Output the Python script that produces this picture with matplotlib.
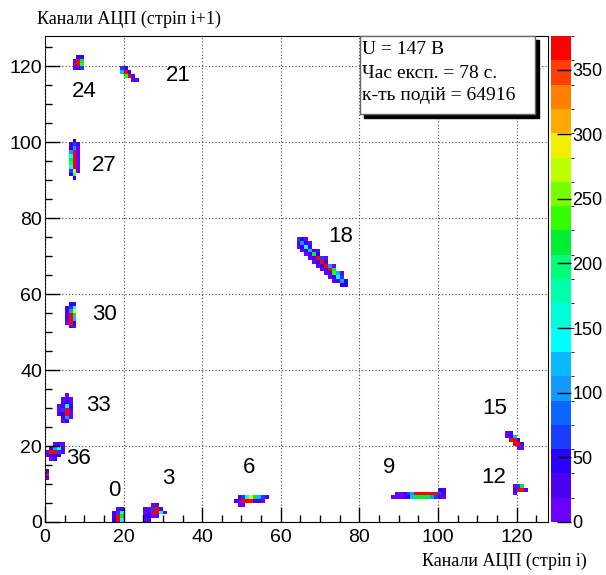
"""2D ADC-channel correlation map (strip i vs strip i+1) in ROOT COLZ style."""

import matplotlib

matplotlib.use("Agg")

import matplotlib.pyplot as plt
import numpy as np
from matplotlib.colors import BoundaryNorm, ListedColormap
from matplotlib.patches import Rectangle
from matplotlib.ticker import MultipleLocator

plt.rcParams["font.family"] = ["Liberation Sans", "DejaVu Sans"]
SERIF = ["Liberation Serif", "DejaVu Serif"]

N_BINS = 128
Z_MAX = 376
N_LEVELS = 20
CBAR_TICKS = [0, 50, 100, 150, 200, 250, 300, 350]

# ROOT-like rainbow palette, bottom (low) to top (high)
PALETTE = [
    "#6a00ff", "#4b00f0", "#2a00ff", "#1a3cff", "#0a66ff",
    "#1199ff", "#0ab8ff", "#00ffff", "#00ffd6", "#00ffaa",
    "#00ff77", "#00ee33", "#33ff00", "#77ff00", "#bbff00",
    "#f0f000", "#ffaa00", "#ff8000", "#ff4000", "#ff0000",
]

# clusters: rows of (y bin, first x bin, counts along x)
CLUSTER_24 = [
    (122, 7, [0, 40, 30]),
    (121, 7, [15, 370, 220]),
    (120, 7, [15, 360, 200]),
    (119, 7, [15, 20, 60]),
]
CLUSTER_21 = [
    (119, 19, [60, 30]),
    (118, 19, [130, 370, 40]),
    (117, 20, [230, 370, 20]),
    (116, 22, [15, 15]),
]
CLUSTER_27 = [
    (100, 7, [40]),
    (99, 6, [30, 60, 20]),
    (98, 6, [50, 110, 15]),
    (97, 6, [110, 370, 15]),
    (96, 6, [150, 370, 15]),
    (95, 6, [220, 370, 10]),
    (94, 6, [200, 370, 10]),
    (93, 6, [150, 360, 15]),
    (92, 6, [60, 300, 15]),
    (91, 6, [40, 150]),
    (90, 7, [40]),
]
CLUSTER_18 = [
    (74, 64, [60, 40, 15]),
    (73, 64, [30, 110, 40, 15]),
    (72, 64, [15, 40, 150, 30]),
    (71, 65, [15, 20, 130, 20, 15]),
    (70, 66, [15, 30, 220, 40]),
    (69, 67, [15, 20, 370, 60, 15]),
    (68, 68, [15, 40, 370, 20]),
    (67, 69, [15, 20, 370, 110, 15]),
    (66, 70, [15, 30, 370, 220]),
    (65, 71, [15, 20, 230, 130, 15]),
    (64, 72, [15, 40, 150, 60]),
    (63, 73, [15, 30, 110, 40]),
    (62, 75, [50, 40]),
]
CLUSTER_30 = [
    (57, 6, [40, 30]),
    (56, 5, [20, 60, 150]),
    (55, 5, [30, 110, 300]),
    (54, 5, [30, 370, 220]),
    (53, 5, [20, 370, 130]),
    (52, 5, [15, 370, 40]),
    (51, 6, [30, 15]),
]
CLUSTER_33 = [
    (33, 5, [15]),
    (32, 4, [15, 20, 15]),
    (31, 4, [20, 40, 15]),
    (30, 3, [15, 30, 150, 40]),
    (29, 3, [15, 60, 370, 20]),
    (28, 3, [20, 40, 370, 15]),
    (27, 4, [20, 110, 15]),
    (26, 4, [15, 30]),
]
CLUSTER_36 = [
    (20, 2, [15, 20, 15]),
    (19, 1, [20, 110, 150, 20]),
    (18, 0, [15, 370, 370, 60, 15]),
    (17, 0, [15, 30, 40, 20]),
    (16, 1, [15, 20]),
    (13, 0, [40]),
    (12, 0, [370]),
    (11, 0, [30]),
]
CLUSTER_0 = [
    (3, 18, [15, 30]),
    (2, 17, [20, 60, 150]),
    (1, 17, [30, 370, 220]),
    (0, 17, [40, 370, 150]),
]
CLUSTER_3 = [
    (4, 27, [15, 30]),
    (3, 25, [20, 15, 60, 370, 20]),
    (2, 25, [15, 30, 370, 370, 150, 15]),
    (1, 25, [20, 40, 15, 15]),
    (0, 25, [15, 20]),
]
CLUSTER_6 = [
    (6, 49, [30, 60, 150, 300, 220, 130, 60, 30]),
    (5, 48, [20, 15, 370, 370, 370, 30, 20, 15]),
    (4, 49, [15, 15]),
]
CLUSTER_9 = [
    (8, 100, [40, 20]),
    (7, 89, [15, 15, 20, 60, 110, 370, 370, 370, 370, 370, 370, 60, 20]),
    (6, 88, [15, 15, 15, 20, 40, 130, 220, 220, 220, 220, 110, 60, 30, 15]),
]
CLUSTER_15 = [
    (23, 117, [15, 20]),
    (22, 117, [15, 40, 130]),
    (21, 118, [370, 370, 40]),
    (20, 119, [370, 370, 20]),
    (19, 120, [15, 15]),
]
CLUSTER_12 = [
    (9, 119, [15, 60, 220]),
    (8, 119, [20, 370, 370, 20]),
    (7, 119, [15]),
]
CLUSTERS = [
    CLUSTER_24, CLUSTER_21, CLUSTER_27, CLUSTER_18, CLUSTER_30, CLUSTER_33,
    CLUSTER_36, CLUSTER_0, CLUSTER_3, CLUSTER_6, CLUSTER_9, CLUSTER_15, CLUSTER_12,
]

# strip-number annotations
LABELS = ["24", "21", "27", "18", "30", "33", "36", "0", "3", "6", "9", "12", "15"]
LABEL_X = [9.9, 33.9, 15.2, 75.2, 15.2, 13.7, 8.4, 17.7, 31.4, 51.9, 87.6, 114.2, 114.4]
LABEL_Y = [113.3, 117.5, 94.0, 75.2, 54.6, 30.8, 16.7, 8.4, 11.5, 14.4, 14.4, 11.7, 29.8]

STATS_LINES = ["U = 147 В", "Час експ. = 78 с.", "к-ть подій = 64916"]
X_TITLE = "Канали АЦП (стріп i)"
Y_TITLE = "Канали АЦП (стріп i+1)"


def build_histogram() -> np.ndarray:
    """Fill a (y, x) count matrix from the cluster rows."""
    counts = np.zeros((N_BINS, N_BINS))
    for cluster in CLUSTERS:
        for y_bin, x_start, row in cluster:
            for offset, value in enumerate(row):
                counts[y_bin, x_start + offset] = value
    return np.ma.masked_equal(counts, 0)


def main() -> None:
    fig = plt.figure(figsize=(6.06, 5.75), dpi=100)
    W, H = 606, 575
    ax = fig.add_axes([45 / W, 53 / H, 503 / W, 486 / H])
    cax = fig.add_axes([551 / W, 53 / H, 20 / W, 486 / H])

    cmap = ListedColormap(PALETTE)
    norm = BoundaryNorm(np.linspace(0, Z_MAX, N_LEVELS + 1), cmap.N)
    edges = np.arange(N_BINS + 1)
    mesh = ax.pcolormesh(edges, edges, build_histogram(), cmap=cmap, norm=norm)

    ax.set_xlim(0, N_BINS)
    ax.set_ylim(0, N_BINS)
    ax.xaxis.set_major_locator(MultipleLocator(20))
    ax.yaxis.set_major_locator(MultipleLocator(20))
    ax.xaxis.set_minor_locator(MultipleLocator(5))
    ax.yaxis.set_minor_locator(MultipleLocator(5))
    ax.tick_params(which="both", direction="in", labelsize=14, width=1)
    ax.tick_params(which="major", length=11)
    ax.tick_params(which="minor", length=5)
    ax.tick_params(axis="x", pad=5)
    ax.tick_params(axis="y", pad=2)
    ax.grid(True, which="major", color="#444444", linestyle=(0, (1, 2)), linewidth=0.8)
    ax.set_axisbelow(False)

    for label, x, y in zip(LABELS, LABEL_X, LABEL_Y):
        ax.text(x, y, label, fontsize=16, ha="center", va="center", color="black")

    cb = fig.colorbar(mesh, cax=cax, ticks=CBAR_TICKS)
    cb.outline.set_visible(False)
    cax.tick_params(direction="in", length=10, width=1, labelsize=13, pad=1)

    fig.text(37 / W, 1 - 19 / H, Y_TITLE, family=SERIF, fontsize=13, ha="left", va="center")
    fig.text(587 / W, 1 - 561 / H, X_TITLE, family=SERIF, fontsize=13, ha="right", va="center")

    # stats box with ROOT-like drop shadow
    box_l, box_r, box_t, box_b = 360, 535, 36, 114
    fig.patches.append(
        Rectangle(((box_l + 4) / W, 1 - (box_b + 4) / H), (box_r - box_l) / W, (box_b - box_t) / H,
                  transform=fig.transFigure, facecolor="black", edgecolor="black", zorder=5)
    )
    fig.patches.append(
        Rectangle((box_l / W, 1 - box_b / H), (box_r - box_l) / W, (box_b - box_t) / H,
                  transform=fig.transFigure, facecolor="white", edgecolor="#666666", linewidth=1, zorder=6)
    )
    for i, line in enumerate(STATS_LINES):
        fig.text(362 / W, 1 - (50 + 23 * i) / H, line, family=SERIF, fontsize=14,
                 ha="left", va="center", zorder=7)

    fig.savefig("out.png", dpi=100)
    plt.close(fig)


if __name__ == "__main__":
    main()
